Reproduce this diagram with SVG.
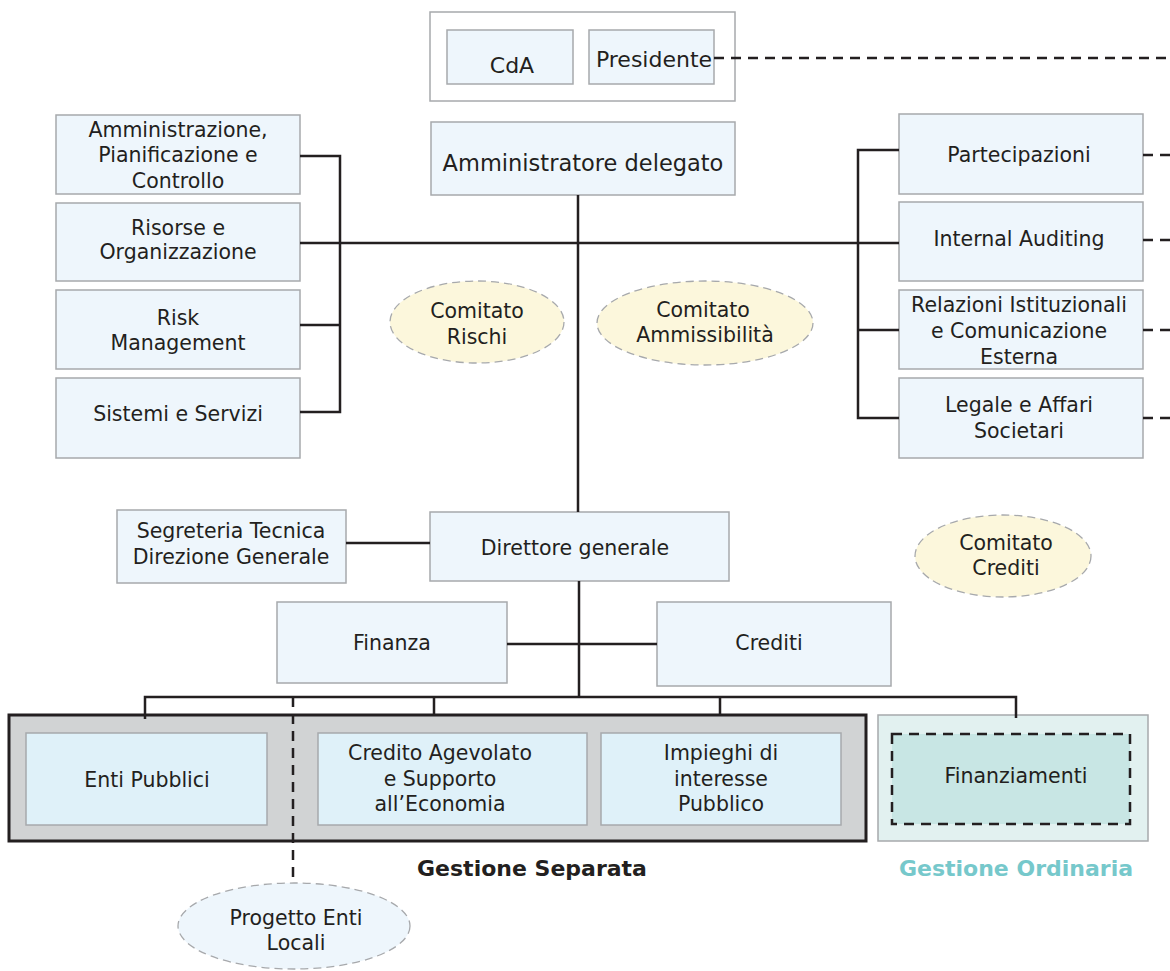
<svg xmlns="http://www.w3.org/2000/svg" width="1170" height="971" viewBox="0 0 1170 971">
<style>
text{font-family:"DejaVu Sans","Noto Sans",sans-serif;font-size:20.5px;fill:#231f20;text-anchor:middle}
.box{fill:#eef6fc;stroke:#a7a9ac;stroke-width:1.5}
.ibox{fill:#dff1f9;stroke:#a7a9ac;stroke-width:1.5}
.ell{fill:#fcf7dc;stroke:#a7a9ac;stroke-width:1.3;stroke-dasharray:8 5}
.ln{fill:none;stroke:#231f20;stroke-width:2.5}
.dl{fill:none;stroke:#231f20;stroke-width:2.5;stroke-dasharray:10 7}
.big{font-size:22px}
.lbl{font-weight:bold;font-size:22px}
</style>
<rect width="1170" height="971" fill="#fff"/>
<g id="board"><rect x="430" y="12" width="305" height="89" fill="#fff" stroke="#a7a9ac" stroke-width="1.5"/></g>
<g id="cda"><rect class="box" x="447" y="30" width="126" height="54"/><text class="big" x="512" y="73">CdA</text></g>
<g id="presidente"><rect class="box" x="589" y="30" width="125" height="54"/><text class="big" x="654" y="67">Presidente</text></g>
<g id="ad"><rect class="box" x="431" y="122" width="304" height="73"/><text x="583" y="171" style="font-size:22.5px">Amministratore delegato</text></g>
<g id="apc"><rect class="box" x="56" y="115" width="244" height="79"/><text x="178" y="137">Amministrazione,</text><text x="178" y="162">Pianificazione e</text><text x="178" y="188">Controllo</text></g>
<g id="ro"><rect class="box" x="56" y="203" width="244" height="78"/><text x="178" y="235">Risorse e</text><text x="178" y="259">Organizzazione</text></g>
<g id="rm"><rect class="box" x="56" y="290" width="244" height="79"/><text x="178" y="325">Risk</text><text x="178" y="350">Management</text></g>
<g id="ss"><rect class="box" x="56" y="378" width="244" height="80"/><text x="178" y="421">Sistemi e Servizi</text></g>
<g id="part"><rect class="box" x="899" y="114" width="244" height="80"/><text x="1019" y="162">Partecipazioni</text></g>
<g id="ia"><rect class="box" x="899" y="202" width="244" height="79"/><text x="1019" y="246">Internal Auditing</text></g>
<g id="ric"><rect class="box" x="899" y="290" width="244" height="79"/><text x="1019" y="312">Relazioni Istituzionali</text><text x="1019" y="338">e Comunicazione</text><text x="1019" y="364">Esterna</text></g>
<g id="las"><rect class="box" x="899" y="378" width="244" height="80"/><text x="1019" y="412">Legale e Affari</text><text x="1019" y="438">Societari</text></g>
<g id="crischi"><ellipse class="ell" cx="477" cy="322" rx="87" ry="41"/><text x="477" y="318">Comitato</text><text x="477" y="344">Rischi</text></g>
<g id="camm"><ellipse class="ell" cx="705" cy="323" rx="108" ry="42"/><text x="703" y="317">Comitato</text><text x="705" y="342">Ammissibilità</text></g>
<g id="ccred"><ellipse class="ell" cx="1003" cy="556" rx="88" ry="41"/><text x="1006" y="550">Comitato</text><text x="1006" y="575">Crediti</text></g>
<g id="stdg"><rect class="box" x="117" y="510" width="229" height="73"/><text x="231" y="538">Segreteria Tecnica</text><text x="231" y="564">Direzione Generale</text></g>
<g id="dg"><rect class="box" x="430" y="512" width="299" height="69"/><text x="575" y="555">Direttore generale</text></g>
<g id="fin"><rect class="box" x="277" y="602" width="230" height="81"/><text x="392" y="650">Finanza</text></g>
<g id="cred"><rect class="box" x="657" y="602" width="234" height="84"/><text x="769" y="650">Crediti</text></g>
<g id="gs"><rect x="9" y="715" width="857" height="126" fill="#d1d3d4" stroke="#231f20" stroke-width="3"/><text class="lbl" x="532" y="876">Gestione Separata</text></g>
<g id="ep"><rect class="ibox" x="26" y="733" width="241" height="92"/><text x="147" y="787">Enti Pubblici</text></g>
<g id="cas"><rect class="ibox" x="318" y="733" width="269" height="92"/><text x="440" y="760">Credito Agevolato</text><text x="440" y="786">e Supporto</text><text x="440" y="811">all’Economia</text></g>
<g id="iip"><rect class="ibox" x="601" y="733" width="240" height="92"/><text x="721" y="760">Impieghi di</text><text x="721" y="786">interesse</text><text x="721" y="811">Pubblico</text></g>
<g id="go"><rect x="878" y="715" width="270" height="126" fill="#e2f1f0" stroke="#a7a9ac" stroke-width="1.5"/><text class="lbl" x="1016" y="876" style="fill:#76c8cb">Gestione Ordinaria</text></g>
<g id="finanz"><rect x="892" y="734" width="238" height="90" fill="#c8e6e4" stroke="#231f20" stroke-width="2.5" stroke-dasharray="10 7"/><text x="1016" y="783">Finanziamenti</text></g>
<g id="pel"><ellipse cx="294" cy="926" rx="116" ry="43" fill="#eef6fc" stroke="#a7a9ac" stroke-width="1.3" stroke-dasharray="8 5"/><text x="296" y="925">Progetto Enti</text><text x="296" y="950">Locali</text></g>
<g id="connectors">
<path class="dl" d="M714 58H1170"/>
<path class="dl" d="M1143 155H1170M1143 240H1170M1143 330H1170M1143 418H1170"/>
<path class="ln" d="M578 195V512"/>
<path class="ln" d="M300 156H340V412H300M300 325H340M300 243H899M899 150H858V418H899M858 330H899"/>
<path class="ln" d="M346 543H430"/>
<path class="ln" d="M579 581V697M507 644H657"/>
<path class="ln" d="M145 719V697H1016V718M434 697V715M720 697V715"/>
<path class="dl" d="M293 697V883"/>
</g>
</svg>
